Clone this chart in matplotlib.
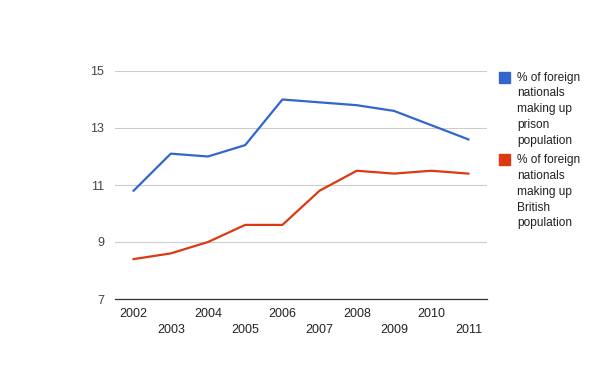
import matplotlib
matplotlib.use("Agg")
import matplotlib.pyplot as plt
from matplotlib.patches import Rectangle

years = ["2002", "2003", "2004", "2005", "2006", "2007", "2008", "2009", "2010", "2011"]
prison = [10.8, 12.1, 12.0, 12.4, 14.0, 13.9, 13.8, 13.6, 13.1, 12.6]
british = [8.4, 8.6, 9.0, 9.6, 9.6, 10.8, 11.5, 11.4, 11.5, 11.4]
series_labels = ["% of foreign\nnationals\nmaking up\nprison\npopulation",
                 "% of foreign\nnationals\nmaking up\nBritish\npopulation"]
colors = ["#3366cc", "#dc3912"]
yticks = [7, 9, 11, 13, 15]

plt.rcParams['font.family'] = ['Liberation Sans', 'DejaVu Sans']
W, H = 601, 371
FS = 9
fig = plt.figure(figsize=(W/100, H/100), dpi=100)
ax = fig.add_axes([115/W, (H-299)/H, 372/W, 228/H])

x = list(range(len(years)))
ax.plot(x, prison, color=colors[0], lw=1.6, solid_joinstyle='round')
ax.plot(x, british, color=colors[1], lw=1.6, solid_joinstyle='round')

ax.set_xlim(-0.5, len(years) - 0.5)
ax.set_ylim(7, 15)
ax.set_yticks(yticks)
ax.set_yticklabels([str(v) for v in yticks])
ax.yaxis.grid(True, color="#cccccc", lw=0.8)
ax.set_axisbelow(True)
for s in ['top', 'right', 'left']:
    ax.spines[s].set_visible(False)
ax.spines['bottom'].set_color('#333333')
ax.spines['bottom'].set_linewidth(0.9)
ax.tick_params(axis='y', length=0, pad=8, labelsize=FS, labelcolor='#444444')

ax.set_xticks(x[0::2])
ax.set_xticklabels(years[0::2])
ax.set_xticks(x[1::2], minor=True)
ax.set_xticklabels(years[1::2], minor=True)
ax.tick_params(axis='x', which='major', length=0, pad=6.5, labelsize=FS, labelcolor='#222222')
ax.tick_params(axis='x', which='minor', length=0, pad=18, labelsize=FS, labelcolor='#222222')

# legend
tops = [71.5, 154]
for top, lab, c in zip(tops, series_labels, colors):
    fig.patches.append(Rectangle((499/W, (H-top-11)/H), 11/W, 11/H,
                                 transform=fig.transFigure, color=c))
    fig.text(517/W, (H-top)/H, lab, ha='left', va='top', fontsize=8.6,
             color='#222222', linespacing=1.43)

fig.savefig("out.png", dpi=100)
